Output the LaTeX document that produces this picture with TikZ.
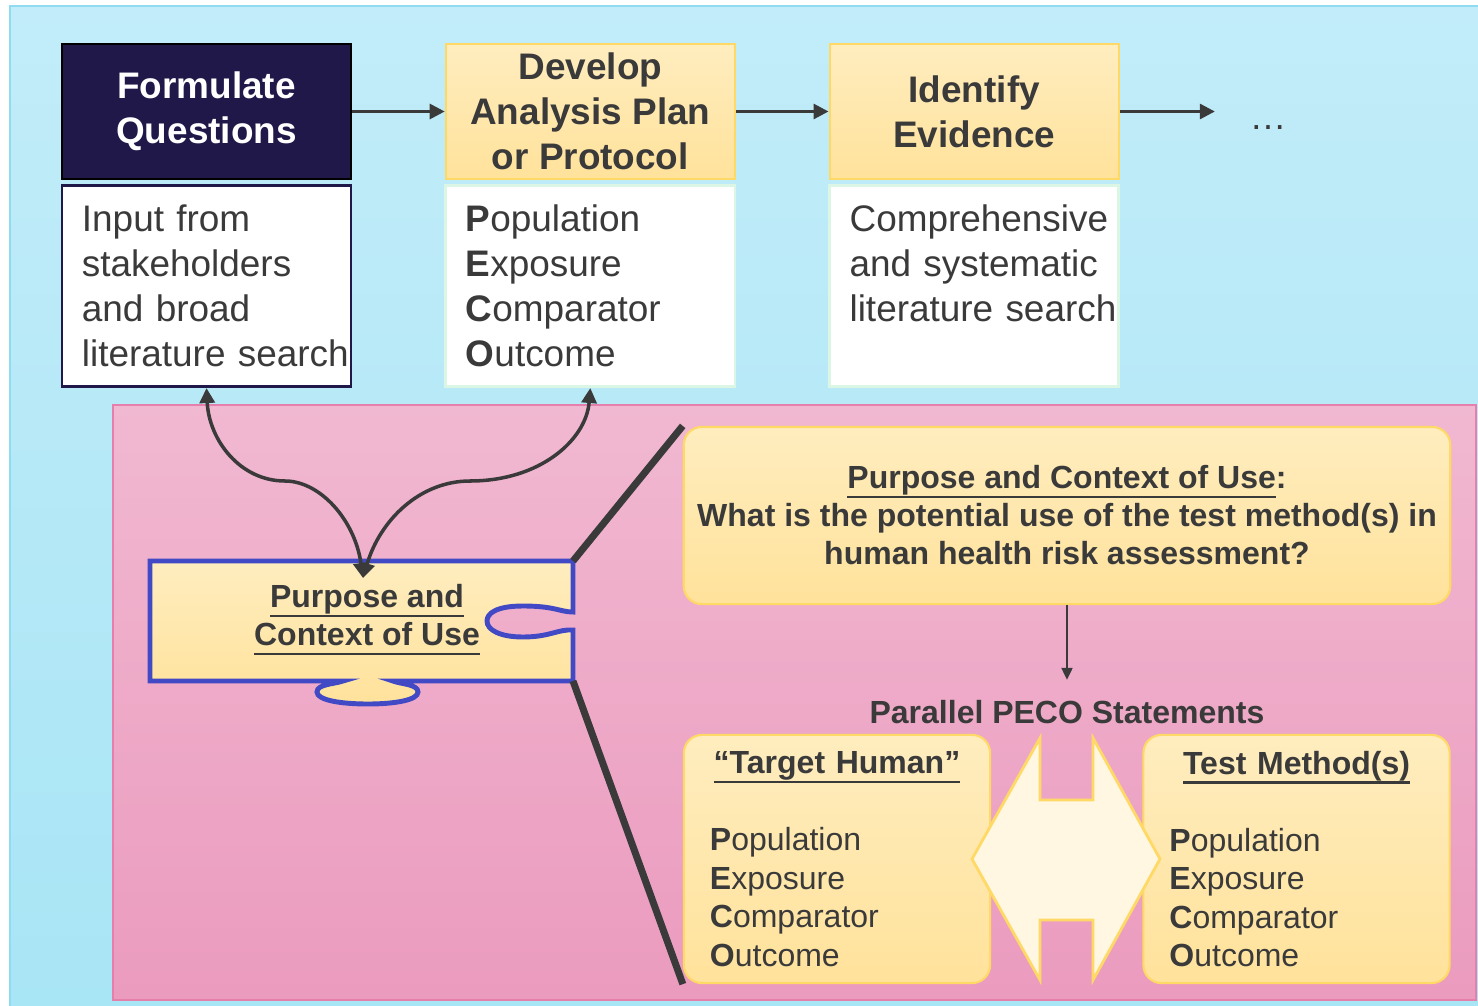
\documentclass[tikz,border=0pt]{standalone}
\usepackage{fontspec}
\setmainfont{Liberation Sans}
\usepackage{xcolor}
\usepackage{tikz}
\usetikzlibrary{positioning, arrows.meta}

\newsavebox{\undlbox}
\newcommand{\undl}[1]{\sbox{\undlbox}{#1}\rlap{\rule[-2.7pt]{\wd\undlbox}{0.7pt}}\usebox{\undlbox}}

\definecolor{skytop}{HTML}{C2ECF9}
\definecolor{skybot}{HTML}{A8E5F5}
\definecolor{skyline}{HTML}{8FDCF0}
\definecolor{pinktop}{HTML}{F1B8D1}
\definecolor{pinkbot}{HTML}{EB9BBE}
\definecolor{pinkline}{HTML}{E67FAC}
\definecolor{yellowtop}{HTML}{FFEDBF}
\definecolor{yellowbot}{HTML}{FFE29B}
\definecolor{boxgold}{HTML}{FFD966}
\definecolor{navy}{HTML}{21184A}
\definecolor{txtgray}{HTML}{3A3A3A}
\definecolor{puzzleblue}{HTML}{4249C4}
\definecolor{mintline}{HTML}{DCF6E6}
\definecolor{cream}{HTML}{FFF7E2}

\newcommand{\stephd}{\fontsize{10.5}{12.8}\selectfont\bfseries}
\newcommand{\stepbd}{\fontsize{10.5}{12.8}\selectfont\hyphenpenalty=10000 }
\newcommand{\pecohd}{\fontsize{9.1}{10.8}\selectfont\bfseries}
\newcommand{\pecobd}{\fontsize{9.1}{10.95}\selectfont\hyphenpenalty=10000 }

\begin{document}
\begin{tikzpicture}[
    x=0.01cm, y=-0.01cm,
    node distance=0.04cm,
    stepbox/.style={
        rectangle,
        line width=0.6pt,
        minimum width=2.89cm,
        minimum height=1.35cm,
        inner sep=0pt,
        align=center,
        font=\stephd
    },
    headbox/.style={
        stepbox,
        draw=boxgold,
        top color=yellowtop, bottom color=yellowbot,
        text=txtgray
    },
    bodybox/.style={
        rectangle,
        draw=mintline,
        line width=0.8pt,
        fill=white,
        minimum width=2.89cm,
        minimum height=2.01cm,
        text width=2.49cm,
        inner xsep=0.2cm, inner ysep=0pt,
        align=left,
        font=\stepbd,
        text=txtgray
    },
    roundbox/.style={
        rectangle,
        rounded corners=0.18cm,
        draw=boxgold,
        line width=0.6pt,
        top color=yellowtop, bottom color=yellowbot,
        inner sep=0pt,
        text=txtgray
    },
    pecobox/.style={
        roundbox,
        minimum width=3.06cm,
        minimum height=2.48cm,
        text width=2.54cm,
        inner xsep=0.26cm,
        align=left,
        font=\pecobd
    },
    steparrow/.style={->, >={Triangle[length=0.15cm, width=0.15cm]}, line width=0.85pt, draw=txtgray},
    linkarrow/.style={<->, >={Triangle[length=0.15cm, width=0.15cm]}, line width=1pt, draw=txtgray},
    zoomline/.style={line width=2pt, draw=txtgray}
]
    \useasboundingbox (0,0) rectangle (1478,1006);
    \fill[white] (0,0) rectangle (1478,1006);

    % Panels
    \draw[draw=skyline, line width=0.5pt, top color=skytop, bottom color=skybot] (10,6) rectangle (1480,1008);
    \draw[draw=pinkline, line width=0.5pt, top color=pinktop, bottom color=pinkbot] (113,405) rectangle (1476,1000);

    % Steps
    \node[stepbox, fill=navy, draw=black, text=white] (fq) at (206.5,111.5) {Formulate\\Questions};
    \node[headbox, right=0.925cm of fq] (dap) {Develop\\Analysis Plan\\or Protocol};
    \node[headbox, right=0.925cm of dap] (ide) {Identify\\Evidence};

    % Step contents
    \node[bodybox, draw=navy, below=of fq] (input) {Input from\\stakeholders\\and broad\\literature~search};
    \node[bodybox, below=of dap] (plan) {\textbf{P}opulation\\\textbf{E}xposure\\\textbf{C}omparator\\\textbf{O}utcome};
    \node[bodybox, below=of ide] (search) {Comprehensive\\and systematic\\literature~search\\\mbox{}};

    % Next steps
    \coordinate[right=0.95cm of ide] (moretip);
    \node[font=\stepbd, text=txtgray, anchor=base] (more) at (1268,129) {\dots};

    \draw[steparrow] (fq) -- (dap);
    \draw[steparrow] (dap) -- (ide);
    \draw[steparrow] (ide) -- (moretip);

    % Puzzle piece
    \draw[draw=puzzleblue, line width=1.4pt, top color=yellowtop, bottom color=yellowbot]
        (150,561) -- (573,561) -- (573,612)
        .. controls (560,612) and (555,606) .. (523,606)
        .. controls (495,606) and (487,614) .. (487,621)
        .. controls (487,630) and (500,637) .. (523,637)
        .. controls (550,637) and (558,629) .. (573,630)
        -- (573,681) -- (393,681)
        .. controls (400,684) and (418,684) .. (418,692)
        .. controls (418,700) and (395,704) .. (368,704)
        .. controls (340,704) and (317,700) .. (317,692)
        .. controls (317,684) and (335,684) .. (343,681)
        -- (150,681) -- cycle;
    \node[font=\pecohd, text=txtgray, align=center, inner sep=0pt] (pcutxt) at (367,620)
        {\fontsize{9.1}{10.5}\selectfont\undl{Purpose and}\\\undl{Context of Use}};
    \coordinate (pcutop) at (363,578);
    \coordinate (pzne) at (573,561);
    \coordinate (pzse) at (573,681);

    % Links to steps
    \draw[linkarrow] (pcutop) .. controls (355,520) and (320,481) .. (285,481)
        .. controls (240,481) and (209,440) .. (input.south);
    \draw[linkarrow] (pcutop) .. controls (380,520) and (420,481) .. (470,481)
        .. controls (540,481) and (586,440) .. (plan.south);

    % Purpose and context
    \node[roundbox, minimum width=7.66cm, minimum height=1.77cm, align=center, font=\pecohd] (pcubox) at (1067,515.5)
        {\undl{Purpose and Context of Use}:\\What is the potential use of the test method(s) in\\human health risk assessment?};
    \node[font=\pecohd, text=txtgray] (pecolbl) at (1067,712) {Parallel PECO Statements};
    \draw[->, >={Triangle[length=0.12cm, width=0.11cm]}, line width=0.6pt, draw=txtgray, shorten >=0.08cm] (pcubox.south) -- (pecolbl.north);

    % PECO statements
    \node[pecobox] (human) at (837,859)
        {\hspace*{\fill}\textbf{\undl{“Target Human”}}\hspace*{\fill}\mbox{}\\\mbox{}\\\textbf{P}opulation\\\textbf{E}xposure\\\textbf{C}omparator\\\textbf{O}utcome};
    \node[pecobox] (method) at (1296.5,859)
        {\hspace*{\fill}\textbf{\undl{Test Method(s)}}\hspace*{\fill}\mbox{}\\\mbox{}\\\textbf{P}opulation\\\textbf{E}xposure\\\textbf{C}omparator\\\textbf{O}utcome};

    % Zoom lines
    \draw[zoomline] (pzne) -- (pcubox.north west);
    \draw[zoomline] (pzse) -- (human.south west);

    % Double arrow
    \draw[draw=boxgold, line width=0.8pt, fill=cream]
        (972,859) -- (1040,738) -- (1040,800) -- (1093,800) -- (1093,738) -- (1160,859)
        -- (1093,980) -- (1093,920) -- (1040,920) -- (1040,980) -- cycle;
\end{tikzpicture}
\end{document}
